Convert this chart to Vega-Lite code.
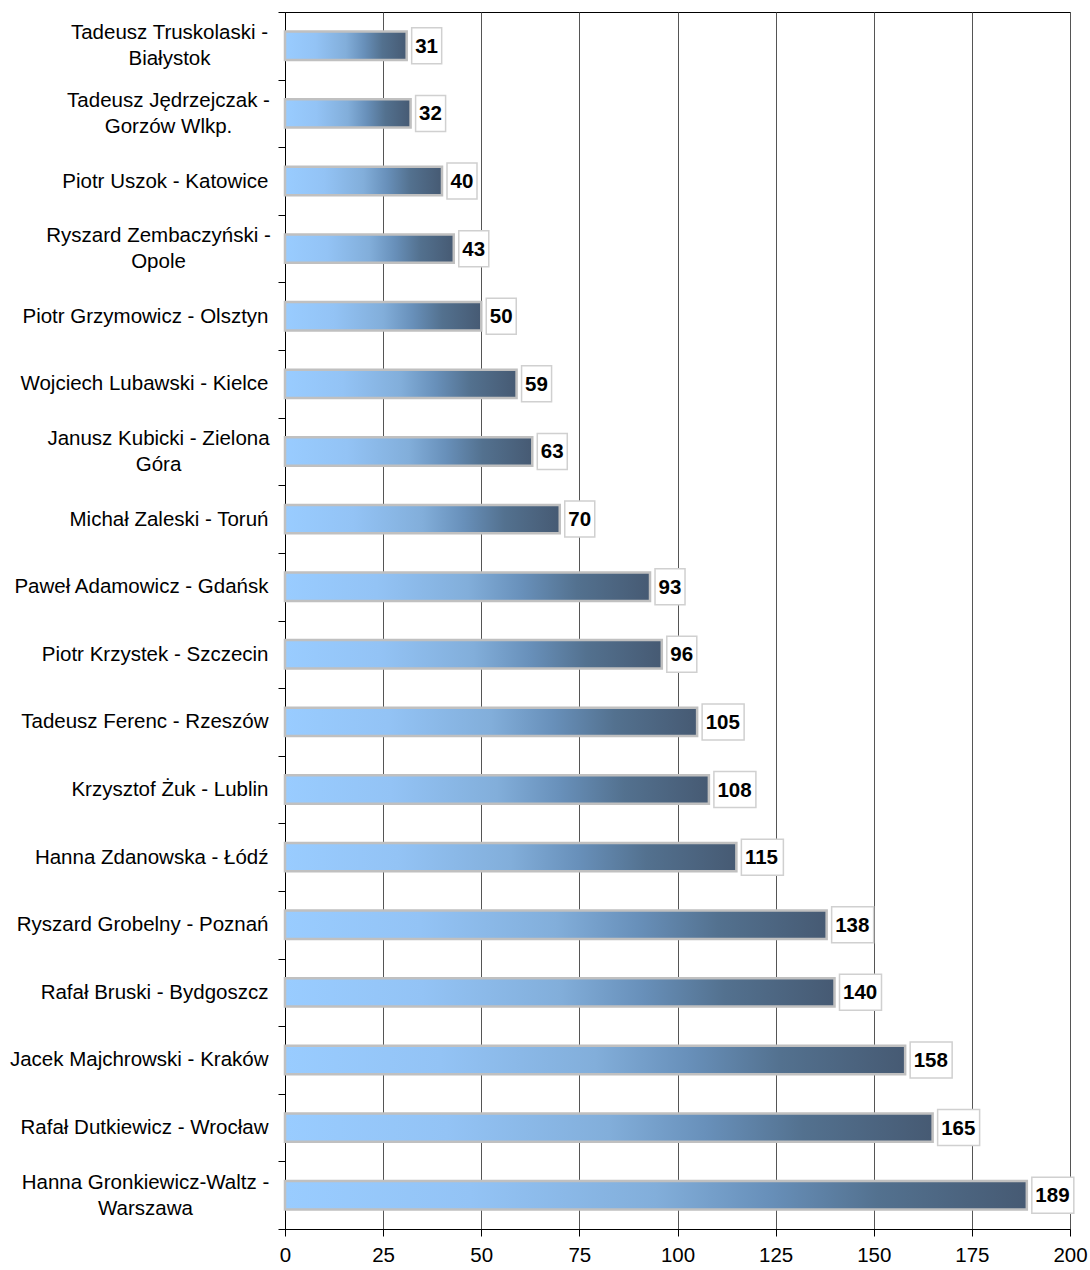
{
  "$schema": "https://vega.github.io/schema/vega-lite/v6.json",
  "autosize": {"type": "none"},
  "padding": {"left": 285, "top": 12, "right": 20, "bottom": 41},
  "width": 785,
  "height": 1217,
  "background": "white",
  "config": {
    "view": {"stroke": "black", "strokeWidth": 1},
    "font": "Liberation Sans"
  },
  "data": {
    "values": [
      {"name": "Tadeusz Truskolaski -\nBiałystok", "v": 31},
      {"name": "Tadeusz Jędrzejczak -\nGorzów Wlkp.", "v": 32},
      {"name": "Piotr Uszok - Katowice", "v": 40},
      {"name": "Ryszard Zembaczyński -\nOpole", "v": 43},
      {"name": "Piotr Grzymowicz - Olsztyn", "v": 50},
      {"name": "Wojciech Lubawski - Kielce", "v": 59},
      {"name": "Janusz Kubicki - Zielona\nGóra", "v": 63},
      {"name": "Michał Zaleski - Toruń", "v": 70},
      {"name": "Paweł Adamowicz - Gdańsk", "v": 93},
      {"name": "Piotr Krzystek - Szczecin", "v": 96},
      {"name": "Tadeusz Ferenc - Rzeszów", "v": 105},
      {"name": "Krzysztof Żuk - Lublin", "v": 108},
      {"name": "Hanna Zdanowska - Łódź", "v": 115},
      {"name": "Ryszard Grobelny - Poznań", "v": 138},
      {"name": "Rafał Bruski - Bydgoszcz", "v": 140},
      {"name": "Jacek Majchrowski - Kraków", "v": 158},
      {"name": "Rafał Dutkiewicz - Wrocław", "v": 165},
      {"name": "Hanna Gronkiewicz-Waltz -\nWarszawa", "v": 189}
    ]
  },
  "encoding": {
    "y": {
      "field": "name",
      "type": "nominal",
      "sort": null,
      "scale": {"paddingInner": 0, "paddingOuter": 0},
      "axis": {
        "title": null,
        "domainColor": "black",
        "tickColor": "black",
        "tickSize": 7,
        "tickBand": "extent",
        "labelFont": "Liberation Sans",
        "labelFontSize": 20.5,
        "labelColor": "black",
        "labelLimit": 0,
        "labelLineHeight": 26,
        "labelExpr": "isValid(datum.value) ? split(datum.value, '\\n') : ''",
        "labelAlign": {"condition": {"test": "isValid(datum.value) && indexof(datum.value, '\\n') >= 0", "value": "center"}, "value": "right"},
        "labelOffset": {"condition": {"test": "isValid(datum.value) && indexof(datum.value, '\\n') >= 0", "value": -13}, "value": 0},
        "labelPadding": {
          "condition": [
            {"test": "isValid(datum.value) && indexof(datum.value,'Truskolaski')>=0", "value": 109},
            {"test": "isValid(datum.value) && indexof(datum.value,'Jędrzejczak')>=0", "value": 110},
            {"test": "isValid(datum.value) && indexof(datum.value,'Zembaczyński')>=0", "value": 120},
            {"test": "isValid(datum.value) && indexof(datum.value,'Kubicki')>=0", "value": 120},
            {"test": "isValid(datum.value) && indexof(datum.value,'Gronkiewicz')>=0", "value": 133}
          ],
          "value": 10
        }
      }
    }
  },
  "layer": [
    {
      "mark": {
        "type": "bar",
        "height": {"band": 0.42},
        "stroke": "#C0C0C0",
        "strokeWidth": 2.5,
        "fill": {
          "gradient": "linear",
          "x1": 0, "y1": 0, "x2": 1, "y2": 0,
          "stops": [
            {"offset": 0, "color": "#99CCFF"},
            {"offset": 0.25, "color": "#93C3F5"},
            {"offset": 0.5, "color": "#82AEDA"},
            {"offset": 0.65, "color": "#6890BA"},
            {"offset": 0.8, "color": "#53718F"},
            {"offset": 1, "color": "#465A73"}
          ]
        }
      },
      "encoding": {
        "x": {
          "field": "v",
          "type": "quantitative",
          "scale": {"domain": [0, 200], "nice": false},
          "axis": {
            "title": null,
            "values": [0, 25, 50, 75, 100, 125, 150, 175, 200],
            "grid": true,
            "gridColor": "#555555",
            "gridWidth": 1,
            "domainColor": "black",
            "tickColor": "black",
            "tickSize": 7,
            "labelFont": "Liberation Sans",
            "labelFontSize": 20.5,
            "labelColor": "black",
            "labelPadding": 9,
            "labelFlush": false
          }
        }
      }
    },
    {
      "transform": [{"filter": "datum.v < 100"}],
      "mark": {"type": "bar", "height": 36, "xOffset": 5, "x2Offset": 35, "fill": "white", "stroke": "#D0D0D0", "strokeWidth": 1.5},
      "encoding": {
        "x": {"field": "v", "type": "quantitative"},
        "x2": {"field": "v"}
      }
    },
    {
      "transform": [{"filter": "datum.v >= 100"}],
      "mark": {"type": "bar", "height": 36, "xOffset": 5, "x2Offset": 47, "fill": "white", "stroke": "#D0D0D0", "strokeWidth": 1.5},
      "encoding": {
        "x": {"field": "v", "type": "quantitative"},
        "x2": {"field": "v"}
      }
    },
    {
      "mark": {"type": "text", "align": "left", "baseline": "middle", "dx": 8.5, "dy": 1, "font": "Liberation Sans", "fontSize": 20.5, "fontWeight": "bold", "color": "black"},
      "encoding": {
        "x": {"field": "v", "type": "quantitative"},
        "text": {"field": "v", "type": "quantitative"}
      }
    }
  ]
}
